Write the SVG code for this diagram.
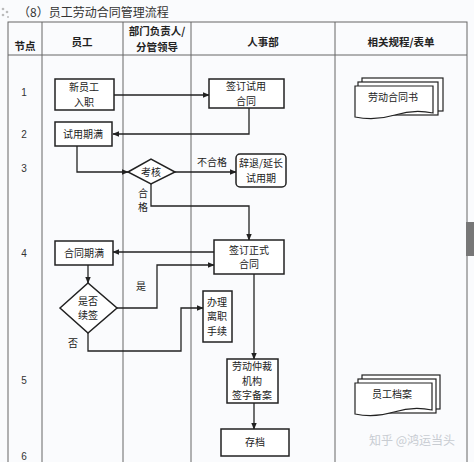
<svg xmlns="http://www.w3.org/2000/svg" width="474" height="462" viewBox="0 0 474 462">
<style>
text{font-family:"Noto Sans CJK SC","Liberation Sans",sans-serif;font-size:10px;fill:#222;text-anchor:middle}
.grid{stroke:#666;stroke-width:1;fill:none}
.box{fill:#fff;stroke:#222;stroke-width:1.5}
.arr{fill:none;stroke:#222;stroke-width:1.3;marker-end:url(#ah)}
.num{font-family:"Liberation Sans",sans-serif;font-size:10px;fill:#333}
.hd{font-weight:bold;font-size:10.5px}
</style>
<defs>
<marker id="ah" viewBox="0 0 10 10" refX="9" refY="5" markerWidth="7" markerHeight="7" orient="auto" markerUnits="userSpaceOnUse"><path d="M0,1 L10,5 L0,9 Z" fill="#222"/></marker>
</defs>
<rect width="474" height="462" fill="#fafbfd"/>
<g id="deco" fill="#bbb"><circle cx="3" cy="9" r="1.3"/><circle cx="7" cy="12" r="1.3"/><circle cx="3" cy="15" r="1.3"/><circle cx="8" cy="17" r="1"/></g>
<text x="18" y="17" style="text-anchor:start;font-size:12px;fill:#333">（8）员工劳动合同管理流程</text>
<g id="table" class="grid">
<rect x="8" y="22" width="459" height="450"/>
<line x1="8" y1="55" x2="467" y2="55"/>
<line x1="42" y1="22" x2="42" y2="462"/>
<line x1="123" y1="22" x2="123" y2="462"/>
<line x1="191" y1="22" x2="191" y2="462"/>
<line x1="335" y1="22" x2="335" y2="462"/>
</g>
<rect x="466" y="222" width="8" height="34" fill="#777"/>
<g id="headers">
<text class="hd" x="25" y="50">节点</text>
<text class="hd" x="82" y="46">员工</text>
<text class="hd" x="157" y="35">部门负责人/</text>
<text class="hd" x="157" y="51">分管领导</text>
<text class="hd" x="263" y="46">人事部</text>
<text class="hd" x="401" y="46">相关规程/表单</text>
</g>
<g id="nums">
<text class="num" x="24" y="96">1</text>
<text class="num" x="24" y="138">2</text>
<text class="num" x="24" y="172">3</text>
<text class="num" x="24" y="257">4</text>
<text class="num" x="24" y="384">5</text>
<text class="num" x="24" y="460">6</text>
</g>
<g id="connectors">
<line class="arr" x1="114" y1="95" x2="209" y2="95"/>
<polyline class="arr" points="249,108 249,134 113,134"/>
<polyline class="arr" points="77,146 77,172 128,172"/>
<line class="arr" x1="175" y1="172" x2="236" y2="172"/>
<polyline class="arr" points="151,184 151,206 249,206 249,240"/>
<line class="arr" x1="214" y1="252" x2="113" y2="252"/>
<line class="arr" x1="88" y1="265" x2="88" y2="283"/>
<polyline class="arr" points="117,308 157,308 157,265 214,265"/>
<polyline class="arr" points="88,333 88,351 181,351 181,308 203,308"/>
<line class="arr" x1="254" y1="274" x2="254" y2="359"/>
<line class="arr" x1="254" y1="403" x2="254" y2="429"/>
<text x="212" y="166">不合格</text>
<text x="143" y="196.5">合</text>
<text x="143" y="211">格</text>
<text x="141" y="290">是</text>
<text x="73" y="347">否</text>
</g>
<g id="n1"><rect class="box" x="55" y="79" width="59" height="31"/><text x="84" y="91">新员工</text><text x="84" y="105.5">入职</text></g>
<g id="n2"><rect class="box" x="209" y="79" width="75" height="29"/><text x="246" y="90">签订试用</text><text x="246" y="104.5">合同</text></g>
<g id="n3"><rect class="box" x="55" y="122" width="57" height="24"/><text x="83" y="137.5">试用期满</text></g>
<g id="n4"><polygon class="box" points="128,172 151,159 175,172 151,184"/><text x="151" y="175.5">考核</text></g>
<g id="n5"><rect class="box" x="236" y="154" width="50" height="33" rx="4"/><text x="261" y="167">辞退/延长</text><text x="261" y="181.5">试用期</text></g>
<g id="n6"><rect class="box" x="214" y="240" width="70" height="34"/><text x="249" y="253.5">签订正式</text><text x="249" y="268">合同</text></g>
<g id="n7"><rect class="box" x="55" y="241" width="58" height="24"/><text x="84" y="256.5">合同期满</text></g>
<g id="n8"><polygon class="box" points="60,308 88,283 117,308 88,333"/><text x="88" y="304.5">是否</text><text x="88" y="319">续签</text></g>
<g id="n9"><rect class="box" x="203" y="291" width="29" height="51"/><text x="217" y="305.5">办理</text><text x="217" y="320">离职</text><text x="217" y="334.5">手续</text></g>
<g id="n10"><rect class="box" x="227" y="359" width="51" height="44"/><text x="252" y="370">劳动仲裁</text><text x="252" y="384.5">机构</text><text x="252" y="399">签字备案</text></g>
<g id="n11"><rect class="box" x="221" y="429" width="68" height="27"/><text x="255" y="446">存档</text></g>
<g id="doc1">
<rect class="box" x="362" y="78" width="81" height="33" style="stroke-width:1.2"/>
<rect class="box" x="358" y="82" width="80" height="33" style="stroke-width:1.2"/>
<path class="box" style="stroke-width:1.2" d="M355,86 H433 V113 Q414,109 395,115 Q375,121 355,117 Z"/>
<text x="393" y="101">劳动合同书</text>
</g>
<g id="doc2">
<rect class="box" x="362" y="375" width="78" height="34" style="stroke-width:1.2"/>
<rect class="box" x="358" y="379" width="78" height="34" style="stroke-width:1.2"/>
<path class="box" style="stroke-width:1.2" d="M355,383 H432 V410 Q413,406 394,412 Q374,418 355,414 Z"/>
<text x="392" y="398">员工档案</text>
</g>
<text x="412" y="445" style="font-size:12px;fill:#c8ccd2">知乎 @鸿运当头</text>
</svg>
